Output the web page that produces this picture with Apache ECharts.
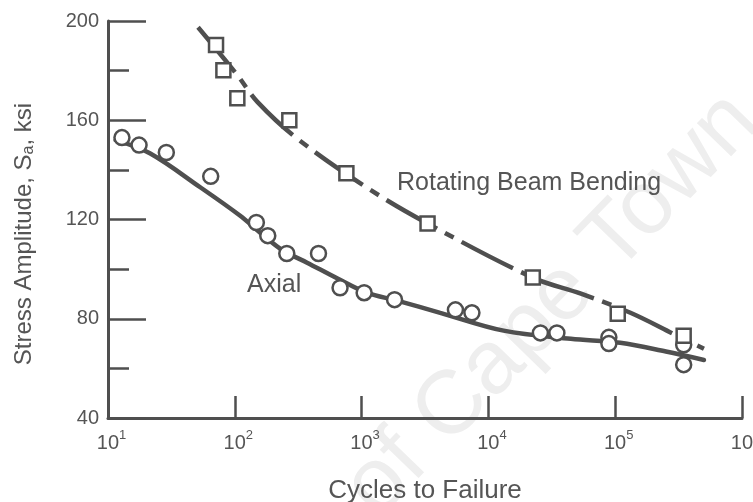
<!DOCTYPE html>
<html>
<head>
<meta charset="utf-8">
<script src="https://cdn.jsdelivr.net/npm/echarts@6/dist/echarts.min.js"></script>
<style>html,body{margin:0;padding:0;background:#fff;}#c{width:753px;height:502px;}</style>
</head>
<body>
<div id="c"></div>
<script>
// Axial test points: exponent of cycles (log10 N) and stress amplitude (ksi)
const axialExp = [1.11, 1.245, 1.46, 1.81, 2.17, 2.26, 2.41, 2.66, 2.83, 3.02, 3.26, 3.74, 3.87, 4.41, 4.54, 4.95, 4.95, 5.54, 5.54];
const axialVal = [153, 150, 147, 137.4, 118.8, 113.5, 106.3, 106.3, 92.5, 90.5, 87.7, 83.6, 82.4, 74.3, 74.3, 72.5, 70, 69.5, 61.5];
// Rotating beam bending test points
const rotExp = [1.852, 1.91, 2.02, 2.43, 2.88, 3.52, 4.35, 5.02, 5.54];
const rotVal = [190.3, 180.2, 168.9, 160, 138.6, 118.4, 96.6, 82, 73.1];
// Fitted curves
const axialCurveExp = [1.06, 1.33, 1.73, 2.04, 2.20, 2.38, 2.57, 2.81, 3.04, 3.28, 3.62, 4.12, 4.65, 5.04, 5.40, 5.70];
const axialCurveVal = [152, 146.7, 132.9, 121.6, 114.7, 107.5, 102.6, 96.2, 90.5, 87.3, 82.4, 75.2, 71.9, 70.3, 66.8, 63.4];
const rotCurveExp = [1.71, 2.02, 2.18, 2.49, 3.04, 3.52, 4.35, 4.73, 5.12, 5.46, 5.70];
const rotCurveVal = [197.5, 178.2, 167.3, 152.7, 132.9, 118.4, 96.6, 90.1, 82.4, 73.9, 67.9];
// Axis
const yTicks = [40, 80, 120, 160, 200];
const xTickExps = [1, 2, 3, 4, 5, 6];

const pts = (e, v) => e.map((x, i) => [Math.pow(10, x), v[i]]);
const ink = '#4f4f4f';
const txt = '#555555';
const font = 'Liberation Sans, Arial, sans-serif';
const cssFont = '"Liberation Sans", Arial, sans-serif';

const chart = echarts.init(document.getElementById('c'), null, {renderer: 'canvas'});
chart.setOption({
  animation: false,
  backgroundColor: '#ffffff',
  grid: {left: 108, right: 11, top: 21, bottom: 84, containLabel: false, outerBoundsMode: 'none'},
  xAxis: {
    type: 'log', logBase: 10, min: 10, max: 1e6,
    name: 'Cycles to Failure', nameLocation: 'middle', nameGap: 60,
    nameTextStyle: {fontFamily: font, fontSize: 26, color: txt},
    axisLine: {show: true, lineStyle: {color: ink, width: 3}},
    axisTick: {show: true, inside: true, length: 22, lineStyle: {color: ink, width: 2.5}},
    splitLine: {show: false},
    axisLabel: {
      margin: 15, color: txt, fontFamily: font, fontSize: 20,
      formatter: function (v) {
        const e = Math.round(Math.log10(v));
        return '{p|}{b|10}{s|' + e + '}';
      },
      rich: {
        p: {width: 7},
        b: {fontSize: 20, fontFamily: font, color: txt, lineHeight: 20, verticalAlign: 'middle'},
        s: {fontSize: 13, fontFamily: font, color: txt, lineHeight: 13, padding: [0, 0, 15, 0], verticalAlign: 'middle'}
      }
    }
  },
  yAxis: {
    type: 'value', min: 40, max: 200, interval: 40,
    axisLine: {show: true, lineStyle: {color: ink, width: 3}},
    axisTick: {show: true, inside: true, length: 38, lineStyle: {color: ink, width: 2.5}},
    minorTick: {show: true, splitNumber: 2, length: 21, lineStyle: {color: ink, width: 2.5}},
    splitLine: {show: false},
    axisLabel: {margin: 9, fontSize: 20, fontFamily: font, color: txt,
      formatter: v => yTicks.indexOf(v) >= 0 ? String(v) : ''}
  },
  graphic: [
    {type: 'text', z: -10, x: 552, y: 305, rotation: 0.80,
      style: {text: 'of Cape Town', font: '90px ' + cssFont, fill: '#eeeeee', align: 'center', verticalAlign: 'middle'}},
    {type: 'text', x: 24, y: 234, rotation: Math.PI / 2, z: 100,
      style: {
        text: '{n|Stress Amplitude, S}{sub|a}{n|, ksi}', align: 'center', verticalAlign: 'middle',
        rich: {
          n: {font: '24px ' + cssFont, fill: txt, lineHeight: 28, verticalAlign: 'middle'},
          sub: {font: '16px ' + cssFont, fill: txt, lineHeight: 16, padding: [10, 0, 0, 0], verticalAlign: 'middle'}
        }
      }},
    {type: 'text', x: 397, y: 183, z: 100,
      style: {text: 'Rotating Beam Bending', font: '25px ' + cssFont, fill: txt, align: 'left', verticalAlign: 'middle'}},
    {type: 'text', x: 247, y: 285, z: 100,
      style: {text: 'Axial', font: '25px ' + cssFont, fill: txt, align: 'left', verticalAlign: 'middle'}}
  ],
  series: [
    {type: 'line', data: pts(axialCurveExp, axialCurveVal), smooth: 0.35, symbol: 'none', z: 2,
      lineStyle: {color: ink, width: 4.5, cap: 'round'}},
    {type: 'line', data: pts(rotCurveExp, rotCurveVal), smooth: 0.35, symbol: 'none', z: 2,
      lineStyle: {color: ink, width: 4.5, type: [58, 9, 10, 9], cap: 'butt'}},
    {type: 'scatter', data: pts(axialExp, axialVal), symbol: 'circle', symbolSize: 15, z: 5,
      itemStyle: {color: '#ffffff', borderColor: ink, borderWidth: 2.5, opacity: 1}},
    {type: 'scatter', data: pts(rotExp, rotVal), symbol: 'rect', symbolSize: 14, z: 5,
      itemStyle: {color: '#ffffff', borderColor: ink, borderWidth: 2.5, opacity: 1}}
  ]
});
</script>
</body>
</html>
